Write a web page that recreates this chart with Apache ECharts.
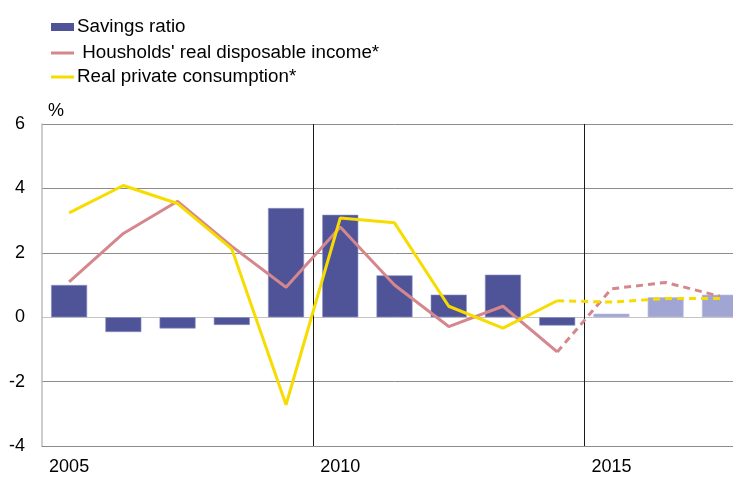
<!DOCTYPE html>
<html>
<head>
<meta charset="utf-8">
<script src="https://cdn.jsdelivr.net/npm/echarts@6/dist/echarts.min.js"></script>
<style>
  html, body { margin: 0; padding: 0; background: #fff; overflow: hidden; }
  /* the last year runs past the right edge of the window */
  #chart { width: 747px; height: 477px; }
</style>
</head>
<body>
<div id="chart"></div>
<script>
// Years on the category axis
const years = ['2005','2006','2007','2008','2009','2010','2011','2012','2013','2014','2015','2016','2017'];
// Savings ratio (change, %), last three years are forecasts
const savingsRatio = [1.0, -0.46, -0.35, -0.24, 3.39, 3.18, 1.30, 0.70, 1.32, -0.26, 0.11, 0.62, 0.70];
// Households' real disposable income (% change)
const incomeActual   = [1.10, 2.60, 3.60, 2.20, 0.93, 2.80, 1.00, -0.29, 0.34, -1.08, null, null, null];
const incomeForecast = [null, null, null, null, null, null, null, null, null, -1.08, 0.88, 1.08, 0.65];
// Real private consumption (% change)
const consActual   = [3.24, 4.09, 3.53, 2.12, -2.72, 3.08, 2.93, 0.34, -0.34, 0.51, null, null, null];
const consForecast = [null, null, null, null, null, null, null, null, null, 0.51, 0.47, 0.58, 0.58];
const forecastFrom = 10;

const NAME_SAV = 'Savings ratio';
const NAME_INC = " Housholds' real disposable income*";
const NAME_CON = 'Real private consumption*';

const FONT = "'Liberation Sans', Arial, sans-serif";
const DARK = '#4f5499';
const LIGHT = '#a0a5d4';
const PINK = '#d4878d';
const YELLOW = '#f7dc00';

function legendRow(name, top, iconHeight) {
  return {
    orient: 'vertical',
    left: 51,
    top: top,
    padding: 0,
    itemWidth: 23,
    itemHeight: iconHeight,
    icon: 'rect',
    itemStyle: { borderWidth: 0 },
    textStyle: { fontSize: 18.8, lineHeight: 20, color: '#000', fontFamily: FONT, padding: [0, 0, 0, -2] },
    data: [name]
  };
}

const chart = echarts.init(document.getElementById('chart'), null, { renderer: 'canvas' });

chart.setOption({
  animation: false,
  backgroundColor: '#fff',
  textStyle: { fontFamily: FONT },
  legend: [
    legendRow(NAME_SAV, 17, 8),
    legendRow(NAME_INC, 43, 3),
    legendRow(NAME_CON, 67, 3)
  ],
  grid: { left: 42, top: 124, bottom: 31, right: 0, containLabel: false },
  xAxis: {
    type: 'category',
    data: years,
    boundaryGap: true,
    axisLine: { show: true, onZero: false, lineStyle: { color: '#8c8c8c', width: 1 } },
    axisTick: { show: false },
    axisLabel: { interval: 4, fontSize: 18, color: '#000', fontFamily: FONT, margin: 12 },
    splitLine: {
      show: true,
      interval: function (index) { return index === 5 || index === 10; },
      lineStyle: { color: '#1a1a1a', width: 1 }
    }
  },
  yAxis: {
    type: 'value',
    min: -4,
    max: 6,
    interval: 2,
    name: '%',
    nameLocation: 'end',
    nameGap: 4,
    nameTextStyle: { fontSize: 18, color: '#000', fontFamily: FONT, align: 'left', padding: [0, 0, 0, 6] },
    axisLine: { show: true, lineStyle: { color: '#bdbdbd', width: 1.5 } },
    axisTick: { show: false },
    axisLabel: { fontSize: 18, color: '#000', fontFamily: FONT, margin: 17 },
    splitLine: {
      show: true,
      lineStyle: { color: ['#8c8c8c', '#8c8c8c', '#c4c4c4', '#8c8c8c', '#8c8c8c', '#8c8c8c'], width: 1 }
    }
  },
  series: [
    {
      name: NAME_SAV,
      type: 'bar',
      barWidth: 36,
      itemStyle: { color: DARK, borderColor: '#8a8ec4', borderWidth: 0.6 },
      data: savingsRatio.map(function (v, i) {
        return i >= forecastFrom
          ? { value: v, itemStyle: { color: LIGHT, borderColor: '#c2c5e4' } }
          : { value: v };
      }),
      z: 2
    },
    {
      name: NAME_INC,
      type: 'line',
      symbol: 'none',
      color: PINK,
      lineStyle: { color: PINK, width: 3 },
      data: incomeActual,
      z: 3
    },
    {
      name: 'income forecast',
      type: 'line',
      symbol: 'none',
      lineStyle: { color: PINK, width: 3, type: [7, 5] },
      data: incomeForecast,
      z: 3
    },
    {
      name: NAME_CON,
      type: 'line',
      symbol: 'none',
      color: YELLOW,
      lineStyle: { color: YELLOW, width: 3 },
      data: consActual,
      z: 4
    },
    {
      name: 'consumption forecast',
      type: 'line',
      symbol: 'none',
      lineStyle: { color: YELLOW, width: 3, type: [7, 5] },
      data: consForecast,
      z: 4
    }
  ]
});
</script>
</body>
</html>
